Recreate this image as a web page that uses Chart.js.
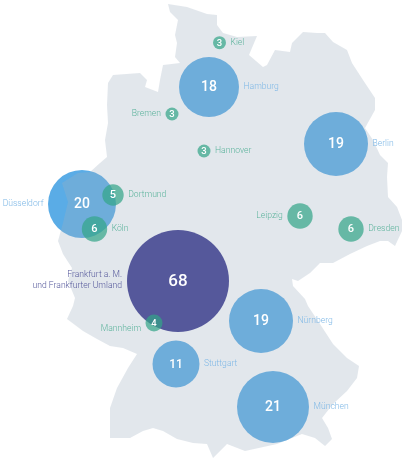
<!DOCTYPE html>
<html><head><meta charset="utf-8">
<style>html,body{margin:0;padding:0;background:#fff}canvas{display:block}</style>
<script src="https://cdn.jsdelivr.net/npm/chart.js@4"></script>
</head><body><canvas id="c" width="404" height="462"></canvas>
<script>
const blueCities=["Hamburg","Berlin","Düsseldorf","Nürnberg","Stuttgart","München"];
const blueValues=[18,19,20,19,11,21];
const blueX=[209,336,82,261,176,273];
const blueY=[87,144,204,321,364,407];
const blueR=[30,32,34,32,23.5,36];
const blueSide=["right","right","left","right","right","right"];

const greenCities=["Kiel","Bremen","Hannover","Dortmund","Köln","Leipzig","Dresden","Mannheim"];
const greenValues=[3,3,3,5,6,6,6,4];
const greenX=[219.5,172,204,113,94.5,300,351,154];
const greenY=[42.7,114,151,195,229,216,229,323];
const greenR=[6.5,6.5,6.5,10.7,12.7,12.7,12.7,8.5];
const greenSide=["right","left","right","right","right","left","right","left"];
const greenDy=[0,0,0,0,0,0,0,6];

const purpleCities=["Frankfurt a. M.","und Frankfurter Umland"];
const purpleValues=[68];
const purpleX=[178];
const purpleY=[281];
const purpleR=[51];

const outlineX=[168,187,207,217,217,223,237,257,249,263,267,275,290,292,303,317,325,333,347,352,363,375,375,365,373,380,388,387,388,397,402,402,395,388,380,367,350,333,320,310,298,292,293,305,308,320,333,347,359,357,347,333,322,328,332,325,315,302,277,245,227,213,207,193,177,163,153,143,130,110,110,117,128,137,123,110,97,83,67,73,75,68,72,63,58,63,68,62,78,90,100,107,105,108,107,108,113,140,147,145,158,160,163,180,175,177,175,178,170];
const outlineY=[4,7,14,15,25,33,37,36,55,67,65,50,52,43,32,33,33,42,50,63,80,98,110,128,140,155,163,177,197,207,220,231,246,241,241,246,254,263,263,273,281,279,286,299,306,324,344,358,366,378,391,404,418,428,439,446,438,434,444,451,444,458,444,443,439,431,428,431,438,438,408,388,368,354,348,346,339,331,319,306,298,281,268,254,241,223,202,183,173,172,163,157,140,123,105,83,75,73,80,87,92,80,65,63,57,43,35,20,12];

const pts=(X,Y,R)=>X.map((x,i)=>({x,y:Y[i],r:R[i]}));
const outline=outlineX.map((x,i)=>({x,y:outlineY[i]}));

const labelPlugin={id:'labels',afterDatasetsDraw(chart){
  const ctx=chart.ctx;
  const numSize=r=>r>=40?17:r>=28?14:r>=20?12:r>=10?11:9.5;
  const labelFont='300 8.6px Roboto';
  const draw=(idx,vals,names,sides,dys,col)=>{
    const els=chart.getDatasetMeta(idx).data;
    els.forEach((el,i)=>{
      const r=el.options.radius;
      ctx.fillStyle='#fff';ctx.textAlign='center';ctx.textBaseline='middle';
      ctx.font='500 '+numSize(r)+'px Roboto';
      ctx.fillText(String(vals[i]),el.x,el.y+0.5);
      ctx.fillStyle=col;ctx.font=labelFont;
      const left=sides[i]==='left';
      ctx.textAlign=left?'right':'left';
      ctx.fillText(names[i],el.x+(left?-(r+4.5):(r+4.5)),el.y+(dys?dys[i]:0));
    });
  };
  draw(1,blueValues,blueCities,blueSide,null,'#7fb8e6');
  draw(3,greenValues,greenCities,greenSide,greenDy,'#5cb39c');
  const f=chart.getDatasetMeta(2).data[0];
  const r=f.options.radius;
  ctx.fillStyle='#fff';ctx.textAlign='center';ctx.textBaseline='middle';
  ctx.font='500 '+numSize(r)+'px Roboto';
  ctx.fillText(String(purpleValues[0]),f.x,f.y+0.5);
  ctx.fillStyle='#55589b';ctx.font=labelFont;ctx.textAlign='right';
  ctx.fillText(purpleCities[0],f.x-r-5,f.y-6);
  ctx.fillText(purpleCities[1],f.x-r-5,f.y+5);
}};

new Chart(document.getElementById('c'),{
  type:'bubble',
  data:{datasets:[
    {type:'line',label:'Deutschland',data:outline,order:3,fill:'shape',backgroundColor:'rgba(158,175,192,0.3)',borderWidth:0,pointRadius:0,tension:0,clip:false},
    {label:'Blau',data:pts(blueX,blueY,blueR),order:4,backgroundColor:'#5aace6',borderWidth:0,hoverRadius:0,clip:false},
    {label:'Frankfurt',data:pts(purpleX,purpleY,purpleR),order:2,backgroundColor:'#55589b',borderWidth:0,hoverRadius:0,clip:false},
    {label:'Grün',data:pts(greenX,greenY,greenR),order:1,backgroundColor:'rgba(50,165,135,0.7)',borderWidth:0,hoverRadius:0,clip:false}
  ]},
  options:{
    responsive:false,animation:false,devicePixelRatio:1,
    layout:{padding:0,autoPadding:false},
    events:[],
    plugins:{legend:{display:false},tooltip:{enabled:false},filler:{propagate:false}},
    scales:{
      x:{type:'linear',min:0,max:404,display:false},
      y:{type:'linear',min:0,max:462,reverse:true,display:false}
    }
  },
  plugins:[labelPlugin]
});
</script></body></html>
